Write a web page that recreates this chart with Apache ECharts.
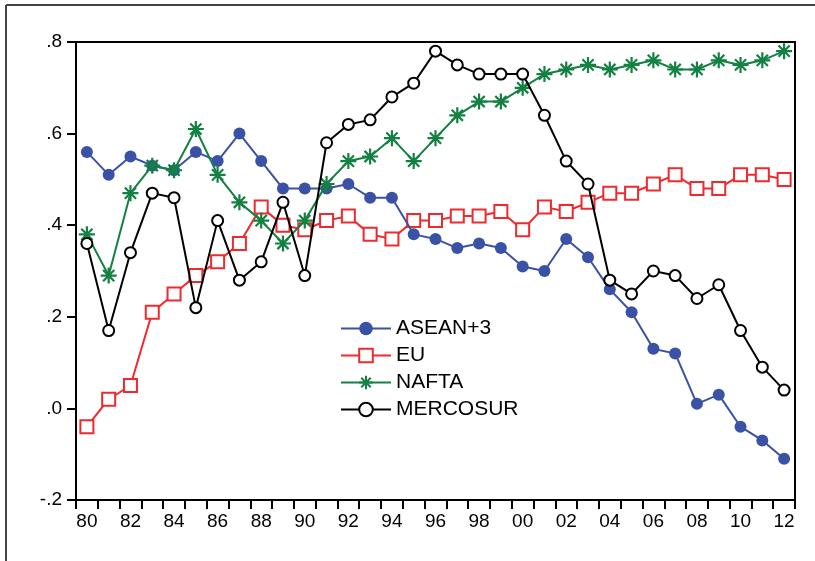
<!DOCTYPE html>
<html>
<head>
<meta charset="utf-8">
<script src="https://cdn.jsdelivr.net/npm/echarts@6/dist/echarts.min.js"></script>
<style>
html,body{margin:0;padding:0;background:#fff;}
#c{width:815px;height:561px;}
</style>
</head>
<body>
<div id="c"></div>
<script>
var years = ['80','81','82','83','84','85','86','87','88','89','90','91','92','93','94','95','96','97','98','99','00','01','02','03','04','05','06','07','08','09','10','11','12'];
var asean = [0.56,0.51,0.55,0.53,0.52,0.56,0.54,0.60,0.54,0.48,0.48,0.48,0.49,0.46,0.46,0.38,0.37,0.35,0.36,0.35,0.31,0.30,0.37,0.33,0.26,0.21,0.13,0.12,0.01,0.03,-0.04,-0.07,-0.11];
var eu = [-0.04,0.02,0.05,0.21,0.25,0.29,0.32,0.36,0.44,0.40,0.39,0.41,0.42,0.38,0.37,0.41,0.41,0.42,0.42,0.43,0.39,0.44,0.43,0.45,0.47,0.47,0.49,0.51,0.48,0.48,0.51,0.51,0.50];
var nafta = [0.38,0.29,0.47,0.53,0.52,0.61,0.51,0.45,0.41,0.36,0.41,0.49,0.54,0.55,0.59,0.54,0.59,0.64,0.67,0.67,0.70,0.73,0.74,0.75,0.74,0.75,0.76,0.74,0.74,0.76,0.75,0.76,0.78];
var mercosur = [0.36,0.17,0.34,0.47,0.46,0.22,0.41,0.28,0.32,0.45,0.29,0.58,0.62,0.63,0.68,0.71,0.78,0.75,0.73,0.73,0.73,0.64,0.54,0.49,0.28,0.25,0.30,0.29,0.24,0.27,0.17,0.09,0.04];
var names = ['ASEAN+3','EU','NAFTA','MERCOSUR'];

var font = '"Liberation Sans", Arial, sans-serif';
var chart = echarts.init(document.getElementById('c'), null, {renderer:'canvas'});
var star = 'path://M5,0L5,10M0,5L10,5M1.5,1.5L8.5,8.5M1.5,8.5L8.5,1.5';
chart.setOption({
  animation:false,
  backgroundColor:'#fff',
  grid:{left:76,top:42,right:20,bottom:61,show:true,borderColor:'#000',borderWidth:2,backgroundColor:'transparent'},
  graphic:[
    {type:'line',shape:{x1:6,y1:5,x2:815,y2:5},style:{stroke:'#444',lineWidth:2}},
    {type:'line',shape:{x1:6,y1:5,x2:6,y2:561},style:{stroke:'#444',lineWidth:2}}
  ],
  legend:{
    orient:'vertical',left:335,top:313,itemWidth:50,itemHeight:17,itemGap:6,
    textStyle:{fontFamily:font,fontSize:21,color:'#000',lineHeight:20},
    data:names
  },
  xAxis:{
    type:'category',data:years,boundaryGap:true,
    axisLine:{onZero:false,lineStyle:{color:'#000',width:2}},
    axisTick:{show:true,interval:0,length:9,lineStyle:{color:'#000',width:2}},
    axisLabel:{interval:1,fontFamily:font,fontSize:19,color:'#000',margin:12},
    splitLine:{show:false}
  },
  yAxis:{
    type:'value',min:-0.2,max:0.8,interval:0.2,
    axisLine:{show:true,lineStyle:{color:'#000',width:2}},
    axisTick:{show:true,length:9,lineStyle:{color:'#000',width:2}},
    axisLabel:{fontFamily:font,fontSize:19,color:'#000',margin:14,
      formatter:function(v){var s=(Math.round(v*10)/10).toFixed(1);return s.replace('0.','.');}},
    splitLine:{show:false}
  },
  series:[
    {name:names[0],type:'line',data:asean,symbol:'circle',symbolSize:12,showAllSymbol:true,
     lineStyle:{color:'#3a52a6',width:2},itemStyle:{color:'#3a52a6'},z:3},
    {name:names[1],type:'line',data:eu,symbol:'rect',symbolSize:13,showAllSymbol:true,
     lineStyle:{color:'#ee2a2e',width:2},itemStyle:{color:'#fff',borderColor:'#ee2a2e',borderWidth:2},z:2},
    {name:names[2],type:'line',data:nafta,symbol:star,symbolSize:16,showAllSymbol:true,
     lineStyle:{color:'#128142',width:2},itemStyle:{color:'#128142',borderColor:'#128142',borderWidth:2.2},z:4},
    {name:names[3],type:'line',data:mercosur,symbol:'emptyCircle',symbolSize:11,showAllSymbol:true,
     lineStyle:{color:'#000',width:2},itemStyle:{color:'#000',borderColor:'#000',borderWidth:2},z:5}
  ]
});
</script>
</body>
</html>
